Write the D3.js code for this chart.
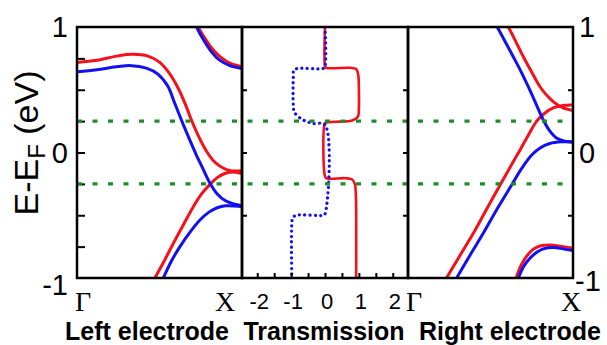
<!DOCTYPE html>
<html><head><meta charset="utf-8">
<script src="https://cdn.jsdelivr.net/npm/d3@7"></script>
<style>body{margin:0;background:#fff}svg{display:block}</style>
</head><body>
<svg id="c" width="607" height="345"></svg>
<script>
// ---------------- data ----------------
const energyTicksOuter = [-0.75, -0.5, -0.25, 0, 0.25, 0.5, 0.75];
const energyTicksInner = [-0.5, 0, 0.5];
const energyLabels = [1, 0, -1];
const transTicks = [-2, -1.5, -1, -0.5, 0, 0.5, 1, 1.5, 2];
const transLabels = [-2, -1, 0, 1, 2];
const biasWindow = [0.25, -0.25];
const kLabels = ["Γ", "X"];
const panelTitles = ["Left electrode", "Transmission", "Right electrode"];

// left electrode bands [k, E]
const leftRed = [
  [[0,0.718],[0.12,0.735],[0.25,0.77],[0.34,0.782],[0.43,0.768],[0.50,0.72],[0.56,0.63],[0.61,0.52],[0.655,0.39],[0.695,0.255],[0.74,0.12],[0.785,0.01],[0.83,-0.07],[0.88,-0.12],[0.93,-0.145],[1,-0.145]],
  [[0.45,-1.06],[0.473,-1.0],[0.53,-0.86],[0.584,-0.724],[0.645,-0.575],[0.705,-0.432],[0.755,-0.33],[0.806,-0.254],[0.85,-0.20],[0.9,-0.165],[0.95,-0.155],[1,-0.168]],
  [[0.70,1.12],[0.735,1.0],[0.78,0.9],[0.826,0.817],[0.87,0.76],[0.93,0.71],[1,0.684]]
];
const leftBlue = [
  [[0,0.644],[0.12,0.66],[0.25,0.685],[0.33,0.692],[0.42,0.672],[0.49,0.625],[0.55,0.53],[0.59,0.40],[0.634,0.255],[0.68,0.11],[0.72,-0.01],[0.76,-0.12],[0.806,-0.245],[0.85,-0.33],[0.9,-0.385],[0.95,-0.41],[1,-0.425]],
  [[0.505,-1.05],[0.523,-1.0],[0.57,-0.87],[0.624,-0.75],[0.685,-0.635],[0.745,-0.538],[0.80,-0.475],[0.85,-0.44],[0.9,-0.425],[1,-0.43]],
  [[0.69,1.12],[0.725,1.0],[0.77,0.89],[0.816,0.80],[0.86,0.74],[0.93,0.69],[1,0.67]]
];
// right electrode bands [k, E]
const rightRed = [
  [[0.575,1.07],[0.608,1.0],[0.655,0.88],[0.699,0.763],[0.75,0.64],[0.80,0.524],[0.845,0.45],[0.89,0.395],[0.94,0.355],[1,0.335]],
  [[0.215,-1.05],[0.234,-1.0],[0.315,-0.82],[0.396,-0.644],[0.477,-0.45],[0.558,-0.259],[0.62,-0.115],[0.679,0.02],[0.73,0.14],[0.78,0.25],[0.83,0.315],[0.88,0.355],[0.94,0.375],[1,0.378]],
  [[0.64,-1.05],[0.655,-1.0],[0.685,-0.9],[0.72,-0.825],[0.76,-0.77],[0.80,-0.745],[0.86,-0.737],[0.93,-0.748],[1,-0.763]]
];
const rightBlue = [
  [[0.51,1.07],[0.541,1.0],[0.59,0.88],[0.638,0.763],[0.685,0.645],[0.729,0.524],[0.775,0.39],[0.82,0.259],[0.86,0.17],[0.90,0.115],[0.95,0.09],[1,0.082]],
  [[0.275,-1.05],[0.295,-1.0],[0.375,-0.82],[0.456,-0.644],[0.54,-0.45],[0.628,-0.259],[0.69,-0.125],[0.75,-0.02],[0.805,0.04],[0.86,0.072],[0.93,0.085],[1,0.086]],
  [[0.655,-1.05],[0.669,-1.0],[0.70,-0.91],[0.739,-0.843],[0.78,-0.795],[0.82,-0.768],[0.88,-0.757],[0.94,-0.768],[1,-0.782]]
];
// transmission [T, E]
const transRed = [[0,1],[0,0.69],[0.03,0.675],[0.75,0.675],[0.92,0.665],[0.98,0.62],[1.0,0.5],[1.0,0.35],[0.97,0.285],[0.8,0.255],[0.3,0.245],[0.05,0.24],[0,0.235],
  [0,-0.19],[0.04,-0.205],[0.6,-0.205],[0.8,-0.215],[0.88,-0.25],[0.91,-0.33],[0.92,-0.5],[0.92,-1]];
const transBlue = [[0,1],[0,0.685],[-0.05,0.67],[-0.8,0.67],[-0.92,0.655],[-0.935,0.6],[-0.935,0.38],[-0.9,0.32],[-0.65,0.26],[-0.35,0.232],[0,0.22],
  [0,-0.49],[-0.05,-0.5],[-0.85,-0.5],[-0.95,-0.52],[-0.98,-0.57],[-0.98,-1]];

// ---------------- layout ----------------
const svg = d3.select("#c");
const yTop = 27, yBot = 278;
const y = d3.scaleLinear().domain([-1, 1]).range([yBot, yTop]);
const xL = d3.scaleLinear().domain([0, 1]).range([77, 242]);
const xM = d3.scaleLinear().domain([-2.45, 2.45]).range([242, 408]);
const xR = d3.scaleLinear().domain([0, 1]).range([408, 573]);
const RED = "#f5101a", BLUE = "#1010f2", GREEN = "#1e8c28";

const defs = svg.append("defs");
[["cl", xL], ["cm", xM], ["cr", xR]].forEach(([id, s]) => {
  defs.append("clipPath").attr("id", id).append("rect")
    .attr("x", s.range()[0]).attr("y", yTop).attr("width", s.range()[1] - s.range()[0]).attr("height", yBot - yTop);
});

function bands(data, xs, color, clip) {
  const line = d3.line().x(d => xs(d[0])).y(d => y(d[1])).curve(d3.curveCatmullRom.alpha(0.5));
  svg.append("g").attr("clip-path", `url(#${clip})`).selectAll("path").data(data).join("path")
    .attr("d", line).attr("fill", "none").attr("stroke", color).attr("stroke-width", 3).attr("stroke-linejoin", "round");
}
bands(leftRed, xL, RED, "cl");
bands(leftBlue, xL, BLUE, "cl");
bands(rightRed, xR, RED, "cr");
bands(rightBlue, xR, BLUE, "cr");

const tline = d3.line().x(d => xM(d[0])).y(d => y(d[1])).curve(d3.curveCatmullRom.alpha(0.5));
const gm = svg.append("g").attr("clip-path", "url(#cm)");
gm.append("path").attr("d", tline(transRed)).attr("fill", "none").attr("stroke", RED).attr("stroke-width", 2.6);
gm.append("path").attr("d", tline(transBlue)).attr("fill", "none").attr("stroke", BLUE).attr("stroke-width", 3.2)
  .attr("stroke-dasharray", "0.1 5.2").attr("stroke-linecap", "round");

// ticks via axes
function cleanAxis(g) { g.select(".domain").remove(); g.selectAll("line").attr("stroke", "#000").attr("stroke-width", 2); g.selectAll("text").remove(); }
svg.append("g").attr("transform", `translate(${xL(0)},0)`)
  .call(d3.axisRight(y).tickValues(energyTicksOuter).tickSize(8)).call(cleanAxis);
svg.append("g").attr("transform", `translate(${xM.range()[0]},0)`)
  .call(d3.axisRight(y).tickValues(energyTicksInner).tickSize(5)).call(cleanAxis);
svg.append("g").attr("transform", `translate(${xM.range()[1]},0)`)
  .call(d3.axisLeft(y).tickValues(energyTicksInner).tickSize(5)).call(cleanAxis);
svg.append("g").attr("transform", `translate(${xR(1)},0)`)
  .call(d3.axisLeft(y).tickValues(energyTicksInner).tickSize(5)).call(cleanAxis);
svg.append("g").attr("transform", `translate(0,${yBot})`)
  .call(d3.axisTop(xM).tickValues(transTicks).tickSize(5)).call(cleanAxis);

// bias window (green dotted)
svg.append("g").selectAll("line").data(biasWindow).join("line")
  .attr("x1", xL(0)).attr("x2", xR(1)).attr("y1", d => y(d)).attr("y2", d => y(d))
  .attr("stroke", GREEN).attr("stroke-width", 3.2).attr("stroke-dasharray", "5 10.5");

// frames
[xL, xM, xR].forEach(s => {
  svg.append("rect").attr("x", s.range()[0]).attr("y", yTop)
    .attr("width", s.range()[1] - s.range()[0]).attr("height", yBot - yTop)
    .attr("fill", "none").attr("stroke", "#000").attr("stroke-width", 2.5);
});

const sans = "'Liberation Sans', Arial, sans-serif";
const serif = "'Liberation Serif', 'Times New Roman', serif";
// energy tick labels
svg.append("g").selectAll("text").data(energyLabels).join("text")
  .attr("x", xL(0) - 9).attr("y", d => y(d) + (d === -1 ? 17 : 10))
  .attr("text-anchor", "end").attr("font-family", sans).attr("font-size", 29).text(d => d);
svg.append("g").selectAll("text").data(energyLabels).join("text")
  .attr("x", d => xR(1) + (d === -1 ? 2 : 6)).attr("y", d => y(d) + (d === -1 ? 13 : 10))
  .attr("text-anchor", "start").attr("font-family", sans).attr("font-size", 29).text(d => d);

// transmission labels
svg.append("g").selectAll("text").data(transLabels).join("text")
  .attr("x", d => xM(d) + 2).attr("y", 309)
  .attr("text-anchor", "middle").attr("font-family", sans).attr("font-size", 22).text(d => d);

// k labels
const kpos = [[xL(0) + 6, kLabels[0]], [xL(1) - 17, kLabels[1]], [xR(0) + 6, kLabels[0]], [xR(1) - 2, kLabels[1]]];
svg.append("g").selectAll("text").data(kpos).join("text")
  .attr("x", d => d[0]).attr("y", 311).attr("text-anchor", "middle")
  .attr("font-family", serif).attr("font-size", 28).text(d => d[1]);

// y title
const yt = svg.append("text").attr("transform", "translate(38,143) rotate(-90)")
  .attr("text-anchor", "middle").attr("font-family", sans).attr("font-size", 34);
yt.append("tspan").text("E-E");
yt.append("tspan").attr("font-size", 24).attr("dy", 7).text("F");
yt.append("tspan").attr("dy", -7).text(" (eV)");

// panel titles
const tx = [147, 324, 510];
svg.append("g").selectAll("text").data(panelTitles).join("text")
  .attr("x", (d, i) => tx[i]).attr("y", 340).attr("text-anchor", "middle")
  .attr("font-family", sans).attr("font-weight", "bold").attr("font-size", 25).text(d => d);
</script>
</body></html>
